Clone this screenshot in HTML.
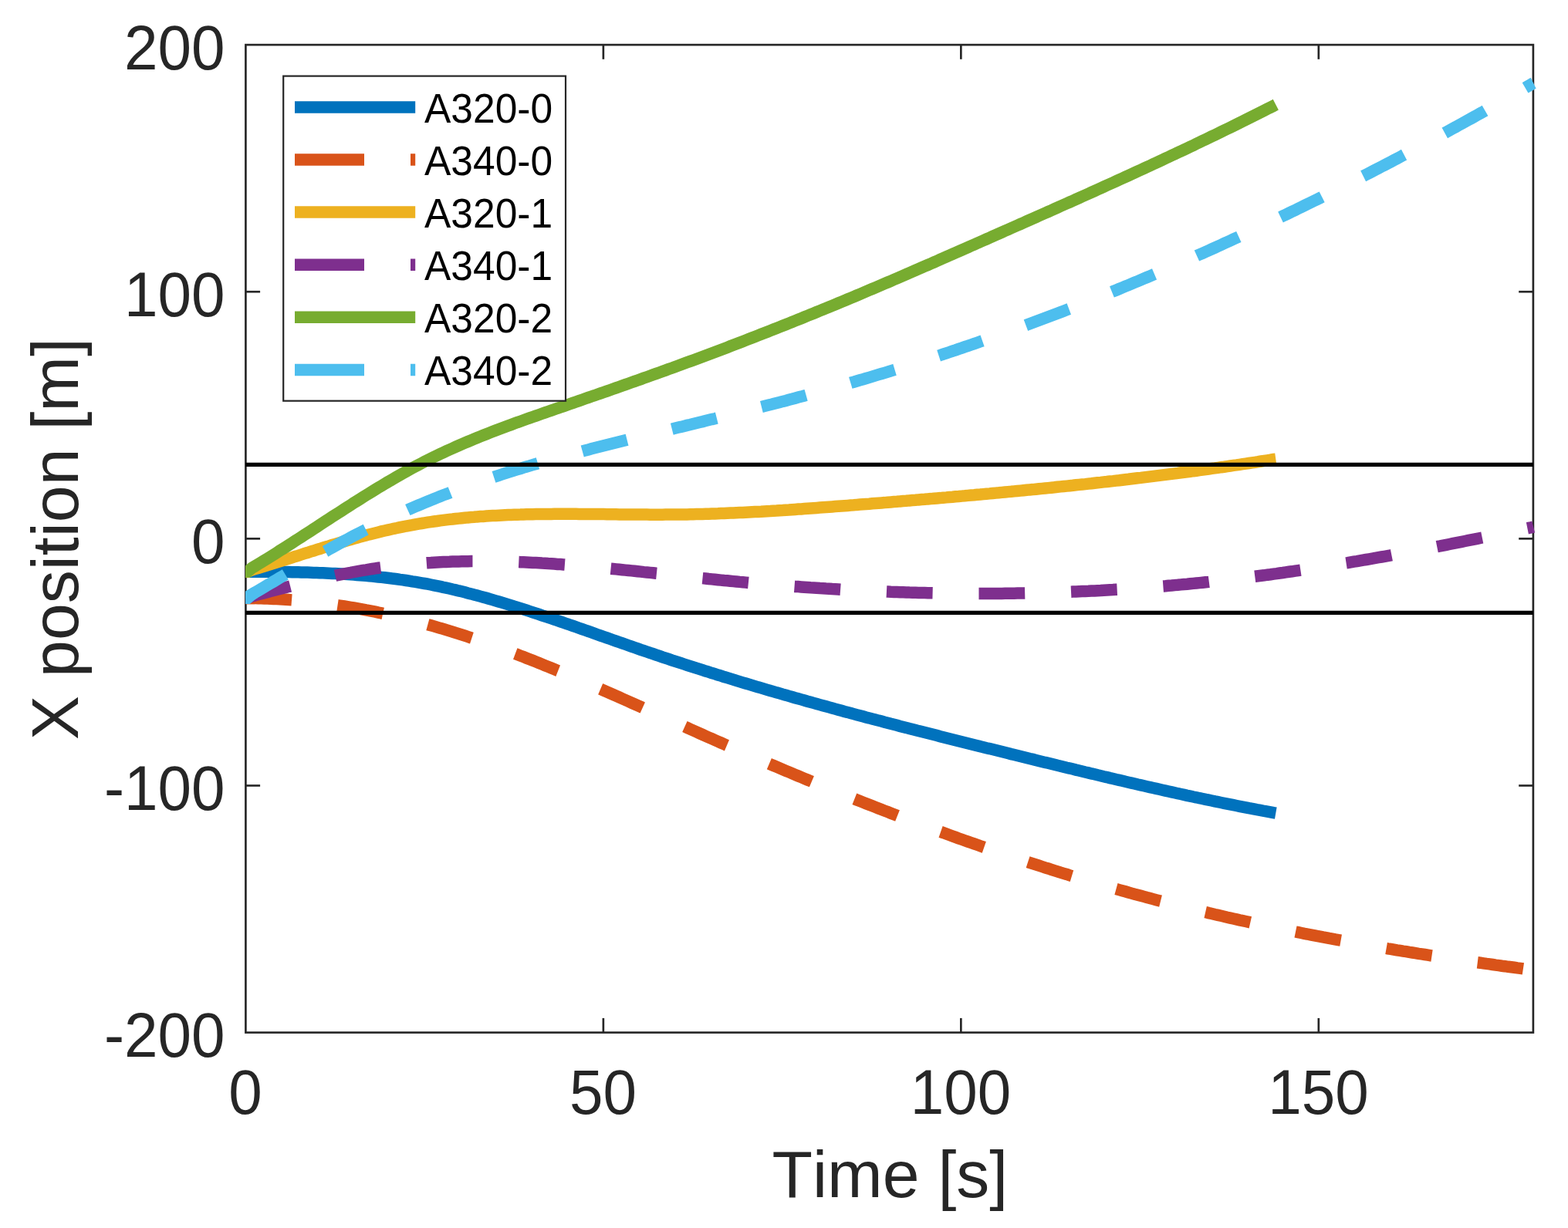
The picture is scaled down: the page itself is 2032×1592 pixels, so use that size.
<!DOCTYPE html>
<html lang="en"><head><meta charset="utf-8"><title>X position vs Time</title>
<style>
html,body{margin:0;padding:0;background:#fff;}
body{width:2032px;height:1592px;overflow:hidden;}
svg{display:block;}
text{font-family:"Liberation Sans",sans-serif;font-kerning:none;}
.tick{font-size:78.2px;fill:#262626;}
.lab{font-size:86px;fill:#262626;}
.leg{font-size:51.5px;fill:#000;}
</style></head><body>
<svg width="2032" height="1592" viewBox="0 0 2032 1592">
<rect x="0" y="0" width="2032" height="1592" fill="#fff"/>
<defs><clipPath id="ax"><rect x="318.1" y="52.1" width="1674.9" height="1292.5"/></clipPath></defs>

<g stroke="#262626" stroke-width="2.65" fill="none">
<rect x="318.4" y="58.1" width="1668.50" height="1280.50"/>
<line x1="781.87" x2="781.87" y1="1338.6" y2="1319.8999999999999"/>
<line x1="781.87" x2="781.87" y1="58.1" y2="76.8"/>
<line x1="1245.34" x2="1245.34" y1="1338.6" y2="1319.8999999999999"/>
<line x1="1245.34" x2="1245.34" y1="58.1" y2="76.8"/>
<line x1="1708.82" x2="1708.82" y1="1338.6" y2="1319.8999999999999"/>
<line x1="1708.82" x2="1708.82" y1="58.1" y2="76.8"/>
<line x1="318.4" x2="337.09999999999997" y1="1018.47" y2="1018.47"/>
<line x1="1986.9" x2="1968.2" y1="1018.47" y2="1018.47"/>
<line x1="318.4" x2="337.09999999999997" y1="698.35" y2="698.35"/>
<line x1="1986.9" x2="1968.2" y1="698.35" y2="698.35"/>
<line x1="318.4" x2="337.09999999999997" y1="378.22" y2="378.22"/>
<line x1="1986.9" x2="1968.2" y1="378.22" y2="378.22"/>
</g>
<g clip-path="url(#ax)" fill="none" stroke-linejoin="miter">
<path d="M306.4,741.3 L320.9,741.3 L326.4,741.3 L330.4,741.3 L334.4,741.3 L338.4,741.3 L342.4,741.3 L346.4,741.3 L350.4,741.3 L354.4,741.4 L358.4,741.4 L362.4,741.4 L366.4,741.5 L370.4,741.5 L374.4,741.6 L378.4,741.7 L382.4,741.7 L386.4,741.8 L390.4,741.9 L394.4,742.0 L398.4,742.1 L402.4,742.2 L406.4,742.4 L410.4,742.5 L414.4,742.7 L418.4,742.8 L422.4,743.0 L426.4,743.2 L430.4,743.4 L434.4,743.6 L438.4,743.8 L442.4,744.0 L446.4,744.3 L450.4,744.5 L454.4,744.8 L458.4,745.1 L462.4,745.4 L466.4,745.7 L470.4,746.0 L474.4,746.4 L478.4,746.8 L482.4,747.1 L486.4,747.5 L490.4,748.0 L494.4,748.4 L498.4,748.8 L502.4,749.3 L506.4,749.8 L510.4,750.3 L514.4,750.8 L518.4,751.4 L522.4,751.9 L526.4,752.5 L530.4,753.1 L534.4,753.8 L538.4,754.4 L542.4,755.1 L546.4,755.8 L550.4,756.5 L554.4,757.2 L558.4,758.0 L562.4,758.8 L566.4,759.6 L570.4,760.4 L574.4,761.3 L578.4,762.1 L582.4,763.0 L586.4,764.0 L590.4,764.9 L594.4,765.9 L598.4,766.8 L602.4,767.8 L606.4,768.9 L610.4,769.9 L614.4,771.0 L618.4,772.0 L622.4,773.1 L626.4,774.2 L630.4,775.3 L634.4,776.5 L638.4,777.6 L642.4,778.8 L646.4,780.0 L650.4,781.2 L654.4,782.4 L658.4,783.6 L662.4,784.8 L666.4,786.1 L670.4,787.3 L674.4,788.6 L678.4,789.9 L682.4,791.2 L686.4,792.5 L690.4,793.8 L694.4,795.1 L698.4,796.4 L702.4,797.8 L706.4,799.1 L710.4,800.4 L714.4,801.8 L718.4,803.2 L722.4,804.5 L726.4,805.9 L730.4,807.3 L734.4,808.7 L738.4,810.0 L742.4,811.4 L746.4,812.8 L750.4,814.2 L754.4,815.6 L758.4,817.0 L762.4,818.4 L766.4,819.8 L770.4,821.3 L774.4,822.7 L778.4,824.1 L782.4,825.5 L786.4,826.9 L790.4,828.3 L794.4,829.7 L798.4,831.1 L802.4,832.5 L806.4,833.9 L810.4,835.3 L814.4,836.7 L818.4,838.1 L822.4,839.5 L826.4,840.9 L830.4,842.3 L834.4,843.6 L838.4,845.0 L842.4,846.4 L846.4,847.7 L850.4,849.1 L854.4,850.4 L858.4,851.8 L862.4,853.1 L866.4,854.4 L870.4,855.8 L874.4,857.1 L878.4,858.4 L882.4,859.7 L886.4,861.0 L890.4,862.3 L894.4,863.6 L898.4,864.9 L902.4,866.2 L906.4,867.4 L910.4,868.7 L914.4,870.0 L918.4,871.2 L922.4,872.5 L926.4,873.7 L930.4,875.0 L934.4,876.2 L938.4,877.5 L942.4,878.7 L946.4,879.9 L950.4,881.1 L954.4,882.4 L958.4,883.6 L962.4,884.8 L966.4,886.0 L970.4,887.2 L974.4,888.4 L978.4,889.6 L982.4,890.8 L986.4,891.9 L990.4,893.1 L994.4,894.3 L998.4,895.5 L1002.4,896.6 L1006.4,897.8 L1010.4,898.9 L1014.4,900.1 L1018.4,901.2 L1022.4,902.4 L1026.4,903.5 L1030.4,904.7 L1034.4,905.8 L1038.4,906.9 L1042.4,908.0 L1046.4,909.2 L1050.4,910.3 L1054.4,911.4 L1058.4,912.5 L1062.4,913.6 L1066.4,914.7 L1070.4,915.8 L1074.4,916.9 L1078.4,918.0 L1082.4,919.1 L1086.4,920.2 L1090.4,921.3 L1094.4,922.4 L1098.4,923.4 L1102.4,924.5 L1106.4,925.6 L1110.4,926.7 L1114.4,927.7 L1118.4,928.8 L1122.4,929.9 L1126.4,930.9 L1130.4,932.0 L1134.4,933.0 L1138.4,934.1 L1142.4,935.1 L1146.4,936.2 L1150.4,937.2 L1154.4,938.3 L1158.4,939.3 L1162.4,940.3 L1166.4,941.4 L1170.4,942.4 L1174.4,943.4 L1178.4,944.5 L1182.4,945.5 L1186.4,946.5 L1190.4,947.6 L1194.4,948.6 L1198.4,949.6 L1202.4,950.6 L1206.4,951.6 L1210.4,952.6 L1214.4,953.6 L1218.4,954.7 L1222.4,955.7 L1226.4,956.7 L1230.4,957.7 L1234.4,958.7 L1238.4,959.7 L1242.4,960.7 L1246.4,961.7 L1250.4,962.7 L1254.4,963.7 L1258.4,964.7 L1262.4,965.7 L1266.4,966.7 L1270.4,967.7 L1274.4,968.7 L1278.4,969.7 L1282.4,970.6 L1286.4,971.6 L1290.4,972.6 L1294.4,973.6 L1298.4,974.6 L1302.4,975.6 L1306.4,976.6 L1310.4,977.6 L1314.4,978.5 L1318.4,979.5 L1322.4,980.5 L1326.4,981.5 L1330.4,982.5 L1334.4,983.5 L1338.4,984.4 L1342.4,985.4 L1346.4,986.4 L1350.4,987.4 L1354.4,988.4 L1358.4,989.3 L1362.4,990.3 L1366.4,991.3 L1370.4,992.3 L1374.4,993.2 L1378.4,994.2 L1382.4,995.2 L1386.4,996.1 L1390.4,997.1 L1394.4,998.1 L1398.4,999.0 L1402.4,1000.0 L1406.4,1001.0 L1410.4,1001.9 L1414.4,1002.9 L1418.4,1003.8 L1422.4,1004.8 L1426.4,1005.7 L1430.4,1006.7 L1434.4,1007.6 L1438.4,1008.6 L1442.4,1009.5 L1446.4,1010.5 L1450.4,1011.4 L1454.4,1012.3 L1458.4,1013.3 L1462.4,1014.2 L1466.4,1015.1 L1470.4,1016.0 L1474.4,1017.0 L1478.4,1017.9 L1482.4,1018.8 L1486.4,1019.7 L1490.4,1020.6 L1494.4,1021.5 L1498.4,1022.4 L1502.4,1023.3 L1506.4,1024.2 L1510.4,1025.1 L1514.4,1026.0 L1518.4,1026.9 L1522.4,1027.8 L1526.4,1028.7 L1530.4,1029.5 L1534.4,1030.4 L1538.4,1031.3 L1542.4,1032.1 L1546.4,1033.0 L1550.4,1033.8 L1554.4,1034.7 L1558.4,1035.5 L1562.4,1036.4 L1566.4,1037.2 L1570.4,1038.0 L1574.4,1038.9 L1578.4,1039.7 L1582.4,1040.5 L1586.4,1041.3 L1590.4,1042.1 L1594.4,1042.9 L1598.4,1043.7 L1602.4,1044.5 L1606.4,1045.3 L1610.4,1046.1 L1614.4,1046.9 L1618.4,1047.7 L1622.4,1048.4 L1626.4,1049.2 L1630.4,1050.0 L1634.4,1050.7 L1638.4,1051.5 L1642.4,1052.2 L1646.4,1052.9 L1650.4,1053.7 L1653.3,1054.2" stroke="#0072BD" stroke-width="15.5"/>
<path d="M306.4,775.5 L320.9,775.5 L326.4,775.6 L330.4,775.6" stroke="#D95319" stroke-width="15.5"/>
<path d="M318.4,775.5 L322.4,775.5 L326.4,775.6 L330.4,775.6 L334.4,775.7 L338.4,775.8 L342.4,775.9 L346.4,776.1 L350.4,776.2 L354.4,776.4 L358.4,776.6 L362.4,776.8 L366.4,777.1 L370.4,777.3 L374.4,777.6 L378.4,777.9 L382.4,778.2 L386.4,778.6 L390.4,778.9 L394.4,779.3 L398.4,779.7 L402.4,780.1 L406.4,780.6 L410.4,781.0 L414.4,781.5 L418.4,782.0 L422.4,782.5 L426.4,783.0 L430.4,783.6 L434.4,784.2 L438.4,784.8 L442.4,785.4 L446.4,786.0 L450.4,786.6 L454.4,787.3 L458.4,788.0 L462.4,788.7 L466.4,789.4 L470.4,790.1 L474.4,790.9 L478.4,791.6 L482.4,792.4 L486.4,793.2 L490.4,794.1 L494.4,794.9 L498.4,795.8 L502.4,796.7 L506.4,797.6 L510.4,798.5 L514.4,799.4 L518.4,800.3 L522.4,801.3 L526.4,802.3 L530.4,803.3 L534.4,804.3 L538.4,805.4 L542.4,806.4 L546.4,807.5 L550.4,808.6 L554.4,809.7 L558.4,810.8 L562.4,811.9 L566.4,813.1 L570.4,814.3 L574.4,815.4 L578.4,816.7 L582.4,817.9 L586.4,819.1 L590.4,820.4 L594.4,821.6 L598.4,822.9 L602.4,824.2 L606.4,825.5 L610.4,826.9 L614.4,828.2 L618.4,829.6 L622.4,831.0 L626.4,832.4 L630.4,833.8 L634.4,835.2 L638.4,836.6 L642.4,838.1 L646.4,839.5 L650.4,841.0 L654.4,842.5 L658.4,844.0 L662.4,845.5 L666.4,847.0 L670.4,848.5 L674.4,850.1 L678.4,851.6 L682.4,853.2 L686.4,854.7 L690.4,856.3 L694.4,857.9 L698.4,859.5 L702.4,861.1 L706.4,862.8 L710.4,864.4 L714.4,866.0 L718.4,867.7 L722.4,869.4 L726.4,871.0 L730.4,872.7 L734.4,874.4 L738.4,876.1 L742.4,877.8 L746.4,879.5 L750.4,881.2 L754.4,882.9 L758.4,884.6 L762.4,886.3 L766.4,888.1 L770.4,889.8 L774.4,891.6 L778.4,893.3 L782.4,895.1 L786.4,896.8 L790.4,898.6 L794.4,900.4 L798.4,902.1 L802.4,903.9 L806.4,905.7 L810.4,907.5 L814.4,909.3 L818.4,911.1 L822.4,912.9 L826.4,914.6 L830.4,916.4 L834.4,918.2 L838.4,920.0 L842.4,921.8 L846.4,923.6 L850.4,925.4 L854.4,927.2 L858.4,929.0 L862.4,930.8 L866.4,932.6 L870.4,934.4 L874.4,936.2 L878.4,938.0 L882.4,939.8 L886.4,941.6 L890.4,943.4 L894.4,945.2 L898.4,947.0 L902.4,948.8 L906.4,950.6 L910.4,952.4 L914.4,954.2 L918.4,956.0 L922.4,957.7 L926.4,959.5 L930.4,961.3 L934.4,963.0 L938.4,964.8 L942.4,966.5 L946.4,968.3 L950.4,970.1 L954.4,971.8 L958.4,973.5 L962.4,975.3 L966.4,977.0 L970.4,978.8 L974.4,980.5 L978.4,982.2 L982.4,983.9 L986.4,985.7 L990.4,987.4 L994.4,989.1 L998.4,990.8 L1002.4,992.5 L1006.4,994.2 L1010.4,995.9 L1014.4,997.6 L1018.4,999.3 L1022.4,1000.9 L1026.4,1002.6 L1030.4,1004.3 L1034.4,1006.0 L1038.4,1007.6 L1042.4,1009.3 L1046.4,1011.0 L1050.4,1012.6 L1054.4,1014.3 L1058.4,1015.9 L1062.4,1017.6 L1066.4,1019.2 L1070.4,1020.8 L1074.4,1022.5 L1078.4,1024.1 L1082.4,1025.7 L1086.4,1027.3 L1090.4,1029.0 L1094.4,1030.6 L1098.4,1032.2 L1102.4,1033.8 L1106.4,1035.4 L1110.4,1037.0 L1114.4,1038.5 L1118.4,1040.1 L1122.4,1041.7 L1126.4,1043.3 L1130.4,1044.8 L1134.4,1046.4 L1138.4,1048.0 L1142.4,1049.5 L1146.4,1051.1 L1150.4,1052.6 L1154.4,1054.2 L1158.4,1055.7 L1162.4,1057.2 L1166.4,1058.8 L1170.4,1060.3 L1174.4,1061.8 L1178.4,1063.3 L1182.4,1064.8 L1186.4,1066.3 L1190.4,1067.8 L1194.4,1069.3 L1198.4,1070.8 L1202.4,1072.3 L1206.4,1073.8 L1210.4,1075.2 L1214.4,1076.7 L1218.4,1078.2 L1222.4,1079.6 L1226.4,1081.1 L1230.4,1082.5 L1234.4,1084.0 L1238.4,1085.4 L1242.4,1086.9 L1246.4,1088.3 L1250.4,1089.7 L1254.4,1091.1 L1258.4,1092.5 L1262.4,1093.9 L1266.4,1095.3 L1270.4,1096.7 L1274.4,1098.1 L1278.4,1099.5 L1282.4,1100.9 L1286.4,1102.3 L1290.4,1103.6 L1294.4,1105.0 L1298.4,1106.4 L1302.4,1107.7 L1306.4,1109.1 L1310.4,1110.4 L1314.4,1111.7 L1318.4,1113.1 L1322.4,1114.4 L1326.4,1115.7 L1330.4,1117.0 L1334.4,1118.3 L1338.4,1119.6 L1342.4,1120.9 L1346.4,1122.2 L1350.4,1123.5 L1354.4,1124.8 L1358.4,1126.0 L1362.4,1127.3 L1366.4,1128.6 L1370.4,1129.8 L1374.4,1131.1 L1378.4,1132.3 L1382.4,1133.5 L1386.4,1134.8 L1390.4,1136.0 L1394.4,1137.2 L1398.4,1138.4 L1402.4,1139.6 L1406.4,1140.8 L1410.4,1142.0 L1414.4,1143.2 L1418.4,1144.4 L1422.4,1145.6 L1426.4,1146.7 L1430.4,1147.9 L1434.4,1149.0 L1438.4,1150.2 L1442.4,1151.3 L1446.4,1152.5 L1450.4,1153.6 L1454.4,1154.7 L1458.4,1155.8 L1462.4,1157.0 L1466.4,1158.1 L1470.4,1159.2 L1474.4,1160.2 L1478.4,1161.3 L1482.4,1162.4 L1486.4,1163.5 L1490.4,1164.5 L1494.4,1165.6 L1498.4,1166.7 L1502.4,1167.7 L1506.4,1168.7 L1510.4,1169.8 L1514.4,1170.8 L1518.4,1171.8 L1522.4,1172.8 L1526.4,1173.8 L1530.4,1174.8 L1534.4,1175.8 L1538.4,1176.8 L1542.4,1177.8 L1546.4,1178.8 L1550.4,1179.8 L1554.4,1180.7 L1558.4,1181.7 L1562.4,1182.6 L1566.4,1183.6 L1570.4,1184.5 L1574.4,1185.5 L1578.4,1186.4 L1582.4,1187.3 L1586.4,1188.2 L1590.4,1189.2 L1594.4,1190.1 L1598.4,1191.0 L1602.4,1191.9 L1606.4,1192.8 L1610.4,1193.6 L1614.4,1194.5 L1618.4,1195.4 L1622.4,1196.3 L1626.4,1197.1 L1630.4,1198.0 L1634.4,1198.8 L1638.4,1199.7 L1642.4,1200.5 L1646.4,1201.4 L1650.4,1202.2 L1654.4,1203.0 L1658.4,1203.9 L1662.4,1204.7 L1666.4,1205.5 L1670.4,1206.3 L1674.4,1207.1 L1678.4,1207.9 L1682.4,1208.7 L1686.4,1209.5 L1690.4,1210.3 L1694.4,1211.0 L1698.4,1211.8 L1702.4,1212.6 L1706.4,1213.4 L1710.4,1214.1 L1714.4,1214.9 L1718.4,1215.6 L1722.4,1216.4 L1726.4,1217.1 L1730.4,1217.9 L1734.4,1218.6 L1738.4,1219.3 L1742.4,1220.0 L1746.4,1220.8 L1750.4,1221.5 L1754.4,1222.2 L1758.4,1222.9 L1762.4,1223.6 L1766.4,1224.3 L1770.4,1225.0 L1774.4,1225.7 L1778.4,1226.4 L1782.4,1227.1 L1786.4,1227.8 L1790.4,1228.4 L1794.4,1229.1 L1798.4,1229.8 L1802.4,1230.4 L1806.4,1231.1 L1810.4,1231.8 L1814.4,1232.4 L1818.4,1233.1 L1822.4,1233.7 L1826.4,1234.4 L1830.4,1235.0 L1834.4,1235.6 L1838.4,1236.3 L1842.4,1236.9 L1846.4,1237.5 L1850.4,1238.1 L1854.4,1238.8 L1858.4,1239.4 L1862.4,1240.0 L1866.4,1240.6 L1870.4,1241.2 L1874.4,1241.8 L1878.4,1242.4 L1882.4,1243.0 L1886.4,1243.6 L1890.4,1244.2 L1894.4,1244.8 L1898.4,1245.4 L1902.4,1245.9 L1906.4,1246.5 L1910.4,1247.1 L1914.4,1247.7 L1918.4,1248.2 L1922.4,1248.8 L1926.4,1249.4 L1930.4,1249.9 L1934.4,1250.5 L1938.4,1251.1 L1942.4,1251.6 L1946.4,1252.2 L1950.4,1252.7 L1954.4,1253.3 L1958.4,1253.8 L1962.4,1254.3 L1966.4,1254.9 L1970.4,1255.4 L1974.4,1256.0 L1978.4,1256.5 L1982.4,1257.0 L1986.4,1257.6 L1987.2,1257.7" stroke="#D95319" stroke-width="15.5" stroke-dasharray="59.7 59.88"/>
<path d="M306.4,741.2 L320.9,741.2 L326.4,738.9 L330.4,737.7 L334.4,736.5 L338.4,735.3 L342.4,734.1 L346.4,732.8 L350.4,731.6 L354.4,730.4 L358.4,729.1 L362.4,727.9 L366.4,726.6 L370.4,725.3 L374.4,724.1 L378.4,722.8 L382.4,721.5 L386.4,720.3 L390.4,719.0 L394.4,717.7 L398.4,716.5 L402.4,715.2 L406.4,714.0 L410.4,712.7 L414.4,711.5 L418.4,710.2 L422.4,709.0 L426.4,707.8 L430.4,706.5 L434.4,705.3 L438.4,704.1 L442.4,703.0 L446.4,701.8 L450.4,700.6 L454.4,699.5 L458.4,698.3 L462.4,697.2 L466.4,696.1 L470.4,695.0 L474.4,694.0 L478.4,692.9 L482.4,691.9 L486.4,690.9 L490.4,689.9 L494.4,688.9 L498.4,688.0 L502.4,687.1 L506.4,686.2 L510.4,685.3 L514.4,684.5 L518.4,683.6 L522.4,682.8 L526.4,682.0 L530.4,681.3 L534.4,680.6 L538.4,679.8 L542.4,679.1 L546.4,678.5 L550.4,677.8 L554.4,677.2 L558.4,676.6 L562.4,676.0 L566.4,675.5 L570.4,674.9 L574.4,674.4 L578.4,673.9 L582.4,673.4 L586.4,673.0 L590.4,672.5 L594.4,672.1 L598.4,671.7 L602.4,671.3 L606.4,670.9 L610.4,670.6 L614.4,670.3 L618.4,669.9 L622.4,669.6 L626.4,669.4 L630.4,669.1 L634.4,668.8 L638.4,668.6 L642.4,668.4 L646.4,668.2 L650.4,668.0 L654.4,667.8 L658.4,667.6 L662.4,667.5 L666.4,667.3 L670.4,667.2 L674.4,667.1 L678.4,666.9 L682.4,666.8 L686.4,666.7 L690.4,666.7 L694.4,666.6 L698.4,666.5 L702.4,666.5 L706.4,666.4 L710.4,666.4 L714.4,666.4 L718.4,666.3 L722.4,666.3 L726.4,666.3 L730.4,666.3 L734.4,666.3 L738.4,666.3 L742.4,666.3 L746.4,666.3 L750.4,666.4 L754.4,666.4 L758.4,666.4 L762.4,666.5 L766.4,666.5 L770.4,666.5 L774.4,666.6 L778.4,666.6 L782.4,666.6 L786.4,666.7 L790.4,666.7 L794.4,666.8 L798.4,666.8 L802.4,666.9 L806.4,666.9 L810.4,666.9 L814.4,667.0 L818.4,667.0 L822.4,667.0 L826.4,667.1 L830.4,667.1 L834.4,667.1 L838.4,667.1 L842.4,667.2 L846.4,667.2 L850.4,667.2 L854.4,667.2 L858.4,667.2 L862.4,667.1 L866.4,667.1 L870.4,667.1 L874.4,667.1 L878.4,667.0 L882.4,667.0 L886.4,666.9 L890.4,666.9 L894.4,666.8 L898.4,666.7 L902.4,666.6 L906.4,666.5 L910.4,666.4 L914.4,666.3 L918.4,666.2 L922.4,666.0 L926.4,665.9 L930.4,665.8 L934.4,665.6 L938.4,665.5 L942.4,665.3 L946.4,665.1 L950.4,665.0 L954.4,664.8 L958.4,664.6 L962.4,664.4 L966.4,664.2 L970.4,664.0 L974.4,663.8 L978.4,663.6 L982.4,663.4 L986.4,663.2 L990.4,662.9 L994.4,662.7 L998.4,662.5 L1002.4,662.2 L1006.4,662.0 L1010.4,661.7 L1014.4,661.5 L1018.4,661.2 L1022.4,661.0 L1026.4,660.7 L1030.4,660.4 L1034.4,660.1 L1038.4,659.9 L1042.4,659.6 L1046.4,659.3 L1050.4,659.0 L1054.4,658.7 L1058.4,658.4 L1062.4,658.1 L1066.4,657.8 L1070.4,657.5 L1074.4,657.2 L1078.4,656.9 L1082.4,656.6 L1086.4,656.3 L1090.4,656.0 L1094.4,655.7 L1098.4,655.4 L1102.4,655.1 L1106.4,654.8 L1110.4,654.4 L1114.4,654.1 L1118.4,653.8 L1122.4,653.5 L1126.4,653.2 L1130.4,652.8 L1134.4,652.5 L1138.4,652.2 L1142.4,651.9 L1146.4,651.6 L1150.4,651.2 L1154.4,650.9 L1158.4,650.6 L1162.4,650.3 L1166.4,649.9 L1170.4,649.6 L1174.4,649.3 L1178.4,648.9 L1182.4,648.6 L1186.4,648.3 L1190.4,647.9 L1194.4,647.6 L1198.4,647.3 L1202.4,646.9 L1206.4,646.6 L1210.4,646.2 L1214.4,645.9 L1218.4,645.6 L1222.4,645.2 L1226.4,644.9 L1230.4,644.5 L1234.4,644.2 L1238.4,643.8 L1242.4,643.5 L1246.4,643.1 L1250.4,642.8 L1254.4,642.4 L1258.4,642.0 L1262.4,641.7 L1266.4,641.3 L1270.4,641.0 L1274.4,640.6 L1278.4,640.2 L1282.4,639.9 L1286.4,639.5 L1290.4,639.1 L1294.4,638.8 L1298.4,638.4 L1302.4,638.0 L1306.4,637.6 L1310.4,637.3 L1314.4,636.9 L1318.4,636.5 L1322.4,636.1 L1326.4,635.7 L1330.4,635.3 L1334.4,634.9 L1338.4,634.6 L1342.4,634.2 L1346.4,633.8 L1350.4,633.4 L1354.4,633.0 L1358.4,632.6 L1362.4,632.2 L1366.4,631.8 L1370.4,631.3 L1374.4,630.9 L1378.4,630.5 L1382.4,630.1 L1386.4,629.7 L1390.4,629.3 L1394.4,628.8 L1398.4,628.4 L1402.4,628.0 L1406.4,627.6 L1410.4,627.1 L1414.4,626.7 L1418.4,626.2 L1422.4,625.8 L1426.4,625.4 L1430.4,624.9 L1434.4,624.5 L1438.4,624.0 L1442.4,623.6 L1446.4,623.1 L1450.4,622.7 L1454.4,622.2 L1458.4,621.7 L1462.4,621.3 L1466.4,620.8 L1470.4,620.3 L1474.4,619.8 L1478.4,619.4 L1482.4,618.9 L1486.4,618.4 L1490.4,617.9 L1494.4,617.4 L1498.4,616.9 L1502.4,616.4 L1506.4,615.9 L1510.4,615.4 L1514.4,614.9 L1518.4,614.4 L1522.4,613.9 L1526.4,613.4 L1530.4,612.8 L1534.4,612.3 L1538.4,611.8 L1542.4,611.3 L1546.4,610.7 L1550.4,610.2 L1554.4,609.6 L1558.4,609.1 L1562.4,608.5 L1566.4,608.0 L1570.4,607.4 L1574.4,606.9 L1578.4,606.3 L1582.4,605.7 L1586.4,605.2 L1590.4,604.6 L1594.4,604.0 L1598.4,603.4 L1602.4,602.9 L1606.4,602.3 L1610.4,601.7 L1614.4,601.1 L1618.4,600.5 L1622.4,599.9 L1626.4,599.3 L1630.4,598.7 L1634.4,598.0 L1638.4,597.4 L1642.4,596.8 L1646.4,596.2 L1650.4,595.5 L1653.3,595.1" stroke="#EDB120" stroke-width="15.5"/>
<path d="M306.4,775.0 L320.9,775.0 L326.4,772.9 L330.4,771.8" stroke="#7E2F8E" stroke-width="15.5"/>
<path d="M318.4,775.0 L322.4,773.9 L326.4,772.9 L330.4,771.8 L334.4,770.8 L338.4,769.8 L342.4,768.7 L346.4,767.7 L350.4,766.6 L354.4,765.6 L358.4,764.5 L362.4,763.5 L366.4,762.5 L370.4,761.5 L374.4,760.4 L378.4,759.4 L382.4,758.4 L386.4,757.4 L390.4,756.4 L394.4,755.4 L398.4,754.5 L402.4,753.5 L406.4,752.6 L410.4,751.6 L414.4,750.7 L418.4,749.8 L422.4,748.9 L426.4,748.0 L430.4,747.1 L434.4,746.3 L438.4,745.4 L442.4,744.6 L446.4,743.8 L450.4,743.0 L454.4,742.3 L458.4,741.5 L462.4,740.8 L466.4,740.1 L470.4,739.4 L474.4,738.8 L478.4,738.1 L482.4,737.5 L486.4,736.9 L490.4,736.3 L494.4,735.8 L498.4,735.2 L502.4,734.7 L506.4,734.2 L510.4,733.7 L514.4,733.3 L518.4,732.8 L522.4,732.4 L526.4,732.0 L530.4,731.6 L534.4,731.3 L538.4,730.9 L542.4,730.6 L546.4,730.3 L550.4,730.0 L554.4,729.7 L558.4,729.5 L562.4,729.2 L566.4,729.0 L570.4,728.8 L574.4,728.6 L578.4,728.4 L582.4,728.3 L586.4,728.1 L590.4,728.0 L594.4,727.9 L598.4,727.8 L602.4,727.7 L606.4,727.7 L610.4,727.6 L614.4,727.6 L618.4,727.6 L622.4,727.6 L626.4,727.6 L630.4,727.6 L634.4,727.6 L638.4,727.7 L642.4,727.7 L646.4,727.8 L650.4,727.9 L654.4,728.0 L658.4,728.1 L662.4,728.2 L666.4,728.4 L670.4,728.5 L674.4,728.7 L678.4,728.8 L682.4,729.0 L686.4,729.2 L690.4,729.4 L694.4,729.6 L698.4,729.8 L702.4,730.1 L706.4,730.3 L710.4,730.6 L714.4,730.8 L718.4,731.1 L722.4,731.4 L726.4,731.6 L730.4,731.9 L734.4,732.2 L738.4,732.5 L742.4,732.9 L746.4,733.2 L750.4,733.5 L754.4,733.8 L758.4,734.2 L762.4,734.5 L766.4,734.9 L770.4,735.2 L774.4,735.6 L778.4,736.0 L782.4,736.3 L786.4,736.7 L790.4,737.1 L794.4,737.5 L798.4,737.9 L802.4,738.3 L806.4,738.7 L810.4,739.1 L814.4,739.5 L818.4,739.9 L822.4,740.3 L826.4,740.7 L830.4,741.1 L834.4,741.6 L838.4,742.0 L842.4,742.4 L846.4,742.8 L850.4,743.3 L854.4,743.7 L858.4,744.1 L862.4,744.5 L866.4,745.0 L870.4,745.4 L874.4,745.8 L878.4,746.3 L882.4,746.7 L886.4,747.1 L890.4,747.5 L894.4,748.0 L898.4,748.4 L902.4,748.8 L906.4,749.2 L910.4,749.6 L914.4,750.0 L918.4,750.5 L922.4,750.9 L926.4,751.3 L930.4,751.7 L934.4,752.1 L938.4,752.5 L942.4,752.8 L946.4,753.2 L950.4,753.6 L954.4,754.0 L958.4,754.4 L962.4,754.7 L966.4,755.1 L970.4,755.5 L974.4,755.8 L978.4,756.2 L982.4,756.5 L986.4,756.9 L990.4,757.2 L994.4,757.5 L998.4,757.9 L1002.4,758.2 L1006.4,758.5 L1010.4,758.8 L1014.4,759.1 L1018.4,759.5 L1022.4,759.8 L1026.4,760.1 L1030.4,760.4 L1034.4,760.6 L1038.4,760.9 L1042.4,761.2 L1046.4,761.5 L1050.4,761.8 L1054.4,762.0 L1058.4,762.3 L1062.4,762.6 L1066.4,762.8 L1070.4,763.1 L1074.4,763.3 L1078.4,763.6 L1082.4,763.8 L1086.4,764.0 L1090.4,764.3 L1094.4,764.5 L1098.4,764.7 L1102.4,764.9 L1106.4,765.1 L1110.4,765.3 L1114.4,765.5 L1118.4,765.7 L1122.4,765.9 L1126.4,766.1 L1130.4,766.3 L1134.4,766.4 L1138.4,766.6 L1142.4,766.8 L1146.4,766.9 L1150.4,767.1 L1154.4,767.3 L1158.4,767.4 L1162.4,767.5 L1166.4,767.7 L1170.4,767.8 L1174.4,767.9 L1178.4,768.1 L1182.4,768.2 L1186.4,768.3 L1190.4,768.4 L1194.4,768.5 L1198.4,768.6 L1202.4,768.7 L1206.4,768.8 L1210.4,768.9 L1214.4,768.9 L1218.4,769.0 L1222.4,769.1 L1226.4,769.1 L1230.4,769.2 L1234.4,769.2 L1238.4,769.3 L1242.4,769.3 L1246.4,769.4 L1250.4,769.4 L1254.4,769.4 L1258.4,769.5 L1262.4,769.5 L1266.4,769.5 L1270.4,769.5 L1274.4,769.5 L1278.4,769.5 L1282.4,769.5 L1286.4,769.5 L1290.4,769.4 L1294.4,769.4 L1298.4,769.4 L1302.4,769.3 L1306.4,769.3 L1310.4,769.2 L1314.4,769.2 L1318.4,769.1 L1322.4,769.1 L1326.4,769.0 L1330.4,768.9 L1334.4,768.8 L1338.4,768.8 L1342.4,768.7 L1346.4,768.6 L1350.4,768.5 L1354.4,768.4 L1358.4,768.2 L1362.4,768.1 L1366.4,768.0 L1370.4,767.9 L1374.4,767.7 L1378.4,767.6 L1382.4,767.4 L1386.4,767.3 L1390.4,767.1 L1394.4,767.0 L1398.4,766.8 L1402.4,766.6 L1406.4,766.4 L1410.4,766.3 L1414.4,766.1 L1418.4,765.9 L1422.4,765.7 L1426.4,765.5 L1430.4,765.2 L1434.4,765.0 L1438.4,764.8 L1442.4,764.6 L1446.4,764.3 L1450.4,764.1 L1454.4,763.8 L1458.4,763.6 L1462.4,763.3 L1466.4,763.0 L1470.4,762.8 L1474.4,762.5 L1478.4,762.2 L1482.4,761.9 L1486.4,761.6 L1490.4,761.3 L1494.4,761.0 L1498.4,760.7 L1502.4,760.3 L1506.4,760.0 L1510.4,759.7 L1514.4,759.3 L1518.4,759.0 L1522.4,758.6 L1526.4,758.3 L1530.4,757.9 L1534.4,757.5 L1538.4,757.2 L1542.4,756.8 L1546.4,756.4 L1550.4,756.0 L1554.4,755.6 L1558.4,755.2 L1562.4,754.8 L1566.4,754.4 L1570.4,753.9 L1574.4,753.5 L1578.4,753.1 L1582.4,752.6 L1586.4,752.2 L1590.4,751.7 L1594.4,751.2 L1598.4,750.8 L1602.4,750.3 L1606.4,749.8 L1610.4,749.3 L1614.4,748.8 L1618.4,748.3 L1622.4,747.8 L1626.4,747.3 L1630.4,746.8 L1634.4,746.3 L1638.4,745.8 L1642.4,745.2 L1646.4,744.7 L1650.4,744.1 L1654.4,743.6 L1658.4,743.0 L1662.4,742.5 L1666.4,741.9 L1670.4,741.3 L1674.4,740.8 L1678.4,740.2 L1682.4,739.6 L1686.4,739.0 L1690.4,738.4 L1694.4,737.8 L1698.4,737.2 L1702.4,736.6 L1706.4,736.0 L1710.4,735.4 L1714.4,734.7 L1718.4,734.1 L1722.4,733.5 L1726.4,732.8 L1730.4,732.2 L1734.4,731.5 L1738.4,730.9 L1742.4,730.2 L1746.4,729.6 L1750.4,728.9 L1754.4,728.2 L1758.4,727.6 L1762.4,726.9 L1766.4,726.2 L1770.4,725.5 L1774.4,724.8 L1778.4,724.1 L1782.4,723.4 L1786.4,722.7 L1790.4,722.0 L1794.4,721.3 L1798.4,720.6 L1802.4,719.9 L1806.4,719.1 L1810.4,718.4 L1814.4,717.7 L1818.4,716.9 L1822.4,716.2 L1826.4,715.5 L1830.4,714.7 L1834.4,714.0 L1838.4,713.2 L1842.4,712.5 L1846.4,711.7 L1850.4,710.9 L1854.4,710.2 L1858.4,709.4 L1862.4,708.6 L1866.4,707.9 L1870.4,707.1 L1874.4,706.3 L1878.4,705.5 L1882.4,704.7 L1886.4,703.9 L1890.4,703.1 L1894.4,702.3 L1898.4,701.5 L1902.4,700.7 L1906.4,699.9 L1910.4,699.1 L1914.4,698.3 L1918.4,697.5 L1922.4,696.7 L1926.4,695.9 L1930.4,695.0 L1934.4,694.2 L1938.4,693.4 L1942.4,692.6 L1946.4,691.7 L1950.4,690.9 L1954.4,690.1 L1958.4,689.2 L1962.4,688.4 L1966.4,687.6 L1970.4,686.7 L1974.4,685.9 L1978.4,685.0 L1982.4,684.2 L1986.4,683.3 L1987.2,683.1" stroke="#7E2F8E" stroke-width="15.5" stroke-dasharray="59.7 59.88"/>
<path d="M306.4,741.1 L320.9,741.1 L326.4,736.4 L330.4,734.0 L334.4,731.5 L338.4,729.1 L342.4,726.7 L346.4,724.2 L350.4,721.7 L354.4,719.2 L358.4,716.7 L362.4,714.1 L366.4,711.6 L370.4,709.1 L374.4,706.5 L378.4,703.9 L382.4,701.3 L386.4,698.8 L390.4,696.2 L394.4,693.6 L398.4,691.0 L402.4,688.4 L406.4,685.8 L410.4,683.2 L414.4,680.6 L418.4,677.9 L422.4,675.3 L426.4,672.7 L430.4,670.1 L434.4,667.5 L438.4,665.0 L442.4,662.4 L446.4,659.8 L450.4,657.2 L454.4,654.7 L458.4,652.1 L462.4,649.6 L466.4,647.1 L470.4,644.5 L474.4,642.0 L478.4,639.6 L482.4,637.1 L486.4,634.6 L490.4,632.2 L494.4,629.8 L498.4,627.4 L502.4,625.0 L506.4,622.7 L510.4,620.3 L514.4,618.0 L518.4,615.7 L522.4,613.5 L526.4,611.2 L530.4,609.0 L534.4,606.8 L538.4,604.7 L542.4,602.6 L546.4,600.5 L550.4,598.4 L554.4,596.4 L558.4,594.4 L562.4,592.4 L566.4,590.5 L570.4,588.6 L574.4,586.7 L578.4,584.8 L582.4,583.0 L586.4,581.2 L590.4,579.4 L594.4,577.6 L598.4,575.9 L602.4,574.2 L606.4,572.5 L610.4,570.8 L614.4,569.1 L618.4,567.5 L622.4,565.9 L626.4,564.3 L630.4,562.7 L634.4,561.1 L638.4,559.6 L642.4,558.0 L646.4,556.5 L650.4,555.0 L654.4,553.5 L658.4,552.0 L662.4,550.6 L666.4,549.1 L670.4,547.6 L674.4,546.2 L678.4,544.8 L682.4,543.3 L686.4,541.9 L690.4,540.5 L694.4,539.1 L698.4,537.7 L702.4,536.3 L706.4,534.9 L710.4,533.5 L714.4,532.1 L718.4,530.7 L722.4,529.3 L726.4,528.0 L730.4,526.6 L734.4,525.2 L738.4,523.8 L742.4,522.4 L746.4,521.0 L750.4,519.6 L754.4,518.2 L758.4,516.8 L762.4,515.4 L766.4,514.0 L770.4,512.7 L774.4,511.3 L778.4,509.9 L782.4,508.5 L786.4,507.1 L790.4,505.7 L794.4,504.3 L798.4,502.9 L802.4,501.5 L806.4,500.0 L810.4,498.6 L814.4,497.2 L818.4,495.8 L822.4,494.4 L826.4,493.0 L830.4,491.6 L834.4,490.1 L838.4,488.7 L842.4,487.3 L846.4,485.8 L850.4,484.4 L854.4,483.0 L858.4,481.5 L862.4,480.1 L866.4,478.6 L870.4,477.2 L874.4,475.7 L878.4,474.3 L882.4,472.8 L886.4,471.3 L890.4,469.8 L894.4,468.4 L898.4,466.9 L902.4,465.4 L906.4,463.9 L910.4,462.4 L914.4,460.9 L918.4,459.4 L922.4,457.9 L926.4,456.4 L930.4,454.9 L934.4,453.4 L938.4,451.9 L942.4,450.4 L946.4,448.8 L950.4,447.3 L954.4,445.8 L958.4,444.2 L962.4,442.7 L966.4,441.1 L970.4,439.6 L974.4,438.0 L978.4,436.5 L982.4,434.9 L986.4,433.3 L990.4,431.8 L994.4,430.2 L998.4,428.6 L1002.4,427.0 L1006.4,425.5 L1010.4,423.9 L1014.4,422.3 L1018.4,420.7 L1022.4,419.1 L1026.4,417.5 L1030.4,415.9 L1034.4,414.3 L1038.4,412.7 L1042.4,411.0 L1046.4,409.4 L1050.4,407.8 L1054.4,406.2 L1058.4,404.5 L1062.4,402.9 L1066.4,401.3 L1070.4,399.6 L1074.4,398.0 L1078.4,396.3 L1082.4,394.7 L1086.4,393.0 L1090.4,391.3 L1094.4,389.7 L1098.4,388.0 L1102.4,386.3 L1106.4,384.7 L1110.4,383.0 L1114.4,381.3 L1118.4,379.6 L1122.4,377.9 L1126.4,376.2 L1130.4,374.5 L1134.4,372.8 L1138.4,371.1 L1142.4,369.4 L1146.4,367.7 L1150.4,366.0 L1154.4,364.3 L1158.4,362.5 L1162.4,360.8 L1166.4,359.1 L1170.4,357.4 L1174.4,355.6 L1178.4,353.9 L1182.4,352.2 L1186.4,350.4 L1190.4,348.7 L1194.4,346.9 L1198.4,345.2 L1202.4,343.5 L1206.4,341.7 L1210.4,340.0 L1214.4,338.2 L1218.4,336.4 L1222.4,334.7 L1226.4,332.9 L1230.4,331.2 L1234.4,329.4 L1238.4,327.7 L1242.4,325.9 L1246.4,324.1 L1250.4,322.4 L1254.4,320.6 L1258.4,318.8 L1262.4,317.1 L1266.4,315.3 L1270.4,313.5 L1274.4,311.7 L1278.4,310.0 L1282.4,308.2 L1286.4,306.4 L1290.4,304.7 L1294.4,302.9 L1298.4,301.1 L1302.4,299.3 L1306.4,297.6 L1310.4,295.8 L1314.4,294.0 L1318.4,292.2 L1322.4,290.5 L1326.4,288.7 L1330.4,286.9 L1334.4,285.1 L1338.4,283.4 L1342.4,281.6 L1346.4,279.8 L1350.4,278.0 L1354.4,276.2 L1358.4,274.5 L1362.4,272.7 L1366.4,270.9 L1370.4,269.1 L1374.4,267.3 L1378.4,265.5 L1382.4,263.7 L1386.4,262.0 L1390.4,260.2 L1394.4,258.4 L1398.4,256.6 L1402.4,254.8 L1406.4,253.0 L1410.4,251.2 L1414.4,249.4 L1418.4,247.6 L1422.4,245.8 L1426.4,243.9 L1430.4,242.1 L1434.4,240.3 L1438.4,238.5 L1442.4,236.7 L1446.4,234.9 L1450.4,233.0 L1454.4,231.2 L1458.4,229.4 L1462.4,227.6 L1466.4,225.7 L1470.4,223.9 L1474.4,222.0 L1478.4,220.2 L1482.4,218.4 L1486.4,216.5 L1490.4,214.7 L1494.4,212.8 L1498.4,210.9 L1502.4,209.1 L1506.4,207.2 L1510.4,205.3 L1514.4,203.5 L1518.4,201.6 L1522.4,199.7 L1526.4,197.8 L1530.4,195.9 L1534.4,194.1 L1538.4,192.2 L1542.4,190.3 L1546.4,188.4 L1550.4,186.4 L1554.4,184.5 L1558.4,182.6 L1562.4,180.7 L1566.4,178.8 L1570.4,176.8 L1574.4,174.9 L1578.4,173.0 L1582.4,171.0 L1586.4,169.1 L1590.4,167.1 L1594.4,165.2 L1598.4,163.2 L1602.4,161.2 L1606.4,159.2 L1610.4,157.3 L1614.4,155.3 L1618.4,153.3 L1622.4,151.3 L1626.4,149.3 L1630.4,147.3 L1634.4,145.3 L1638.4,143.3 L1642.4,141.2 L1646.4,139.2 L1650.4,137.2 L1653.3,135.7" stroke="#77AC30" stroke-width="15.5"/>
<path d="M306.4,775.3 L320.9,775.3 L326.4,770.6 L330.4,768.2" stroke="#4DBEEE" stroke-width="15.5"/>
<path d="M318.4,775.3 L322.4,772.9 L326.4,770.6 L330.4,768.2 L334.4,765.8 L338.4,763.5 L342.4,761.1 L346.4,758.7 L350.4,756.4 L354.4,754.0 L358.4,751.6 L362.4,749.2 L366.4,746.9 L370.4,744.5 L374.4,742.1 L378.4,739.8 L382.4,737.4 L386.4,735.1 L390.4,732.7 L394.4,730.4 L398.4,728.1 L402.4,725.8 L406.4,723.5 L410.4,721.2 L414.4,718.9 L418.4,716.6 L422.4,714.4 L426.4,712.1 L430.4,709.9 L434.4,707.7 L438.4,705.5 L442.4,703.3 L446.4,701.1 L450.4,699.0 L454.4,696.8 L458.4,694.7 L462.4,692.6 L466.4,690.6 L470.4,688.5 L474.4,686.5 L478.4,684.5 L482.4,682.5 L486.4,680.5 L490.4,678.6 L494.4,676.6 L498.4,674.7 L502.4,672.8 L506.4,671.0 L510.4,669.1 L514.4,667.3 L518.4,665.5 L522.4,663.7 L526.4,661.9 L530.4,660.1 L534.4,658.4 L538.4,656.7 L542.4,655.0 L546.4,653.3 L550.4,651.6 L554.4,650.0 L558.4,648.3 L562.4,646.7 L566.4,645.1 L570.4,643.5 L574.4,641.9 L578.4,640.4 L582.4,638.9 L586.4,637.3 L590.4,635.8 L594.4,634.3 L598.4,632.9 L602.4,631.4 L606.4,630.0 L610.4,628.5 L614.4,627.1 L618.4,625.7 L622.4,624.3 L626.4,622.9 L630.4,621.6 L634.4,620.2 L638.4,618.9 L642.4,617.6 L646.4,616.3 L650.4,615.0 L654.4,613.7 L658.4,612.4 L662.4,611.2 L666.4,609.9 L670.4,608.7 L674.4,607.5 L678.4,606.2 L682.4,605.0 L686.4,603.9 L690.4,602.7 L694.4,601.5 L698.4,600.3 L702.4,599.2 L706.4,598.0 L710.4,596.9 L714.4,595.8 L718.4,594.7 L722.4,593.6 L726.4,592.5 L730.4,591.4 L734.4,590.3 L738.4,589.2 L742.4,588.1 L746.4,587.1 L750.4,586.0 L754.4,585.0 L758.4,583.9 L762.4,582.9 L766.4,581.8 L770.4,580.8 L774.4,579.8 L778.4,578.8 L782.4,577.8 L786.4,576.8 L790.4,575.8 L794.4,574.8 L798.4,573.8 L802.4,572.8 L806.4,571.8 L810.4,570.8 L814.4,569.8 L818.4,568.8 L822.4,567.9 L826.4,566.9 L830.4,565.9 L834.4,565.0 L838.4,564.0 L842.4,563.0 L846.4,562.1 L850.4,561.1 L854.4,560.1 L858.4,559.2 L862.4,558.2 L866.4,557.2 L870.4,556.3 L874.4,555.3 L878.4,554.3 L882.4,553.4 L886.4,552.4 L890.4,551.4 L894.4,550.5 L898.4,549.5 L902.4,548.5 L906.4,547.5 L910.4,546.6 L914.4,545.6 L918.4,544.6 L922.4,543.6 L926.4,542.7 L930.4,541.7 L934.4,540.7 L938.4,539.7 L942.4,538.7 L946.4,537.7 L950.4,536.7 L954.4,535.7 L958.4,534.7 L962.4,533.7 L966.4,532.7 L970.4,531.7 L974.4,530.7 L978.4,529.7 L982.4,528.7 L986.4,527.6 L990.4,526.6 L994.4,525.6 L998.4,524.6 L1002.4,523.5 L1006.4,522.5 L1010.4,521.5 L1014.4,520.4 L1018.4,519.4 L1022.4,518.3 L1026.4,517.3 L1030.4,516.2 L1034.4,515.1 L1038.4,514.1 L1042.4,513.0 L1046.4,511.9 L1050.4,510.8 L1054.4,509.7 L1058.4,508.7 L1062.4,507.6 L1066.4,506.5 L1070.4,505.4 L1074.4,504.2 L1078.4,503.1 L1082.4,502.0 L1086.4,500.9 L1090.4,499.7 L1094.4,498.6 L1098.4,497.5 L1102.4,496.3 L1106.4,495.2 L1110.4,494.0 L1114.4,492.8 L1118.4,491.7 L1122.4,490.5 L1126.4,489.3 L1130.4,488.1 L1134.4,486.9 L1138.4,485.7 L1142.4,484.5 L1146.4,483.3 L1150.4,482.1 L1154.4,480.8 L1158.4,479.6 L1162.4,478.4 L1166.4,477.1 L1170.4,475.9 L1174.4,474.6 L1178.4,473.4 L1182.4,472.1 L1186.4,470.8 L1190.4,469.6 L1194.4,468.3 L1198.4,467.0 L1202.4,465.7 L1206.4,464.4 L1210.4,463.1 L1214.4,461.8 L1218.4,460.5 L1222.4,459.1 L1226.4,457.8 L1230.4,456.5 L1234.4,455.1 L1238.4,453.8 L1242.4,452.4 L1246.4,451.1 L1250.4,449.7 L1254.4,448.4 L1258.4,447.0 L1262.4,445.6 L1266.4,444.2 L1270.4,442.8 L1274.4,441.4 L1278.4,440.0 L1282.4,438.6 L1286.4,437.2 L1290.4,435.8 L1294.4,434.4 L1298.4,432.9 L1302.4,431.5 L1306.4,430.1 L1310.4,428.6 L1314.4,427.2 L1318.4,425.7 L1322.4,424.2 L1326.4,422.8 L1330.4,421.3 L1334.4,419.8 L1338.4,418.3 L1342.4,416.8 L1346.4,415.3 L1350.4,413.8 L1354.4,412.3 L1358.4,410.8 L1362.4,409.3 L1366.4,407.8 L1370.4,406.3 L1374.4,404.7 L1378.4,403.2 L1382.4,401.6 L1386.4,400.1 L1390.4,398.5 L1394.4,397.0 L1398.4,395.4 L1402.4,393.8 L1406.4,392.2 L1410.4,390.7 L1414.4,389.1 L1418.4,387.5 L1422.4,385.9 L1426.4,384.3 L1430.4,382.7 L1434.4,381.0 L1438.4,379.4 L1442.4,377.8 L1446.4,376.2 L1450.4,374.5 L1454.4,372.9 L1458.4,371.2 L1462.4,369.6 L1466.4,367.9 L1470.4,366.2 L1474.4,364.6 L1478.4,362.9 L1482.4,361.2 L1486.4,359.5 L1490.4,357.8 L1494.4,356.1 L1498.4,354.4 L1502.4,352.7 L1506.4,351.0 L1510.4,349.3 L1514.4,347.6 L1518.4,345.8 L1522.4,344.1 L1526.4,342.4 L1530.4,340.6 L1534.4,338.9 L1538.4,337.1 L1542.4,335.4 L1546.4,333.6 L1550.4,331.8 L1554.4,330.0 L1558.4,328.3 L1562.4,326.5 L1566.4,324.7 L1570.4,322.9 L1574.4,321.1 L1578.4,319.3 L1582.4,317.5 L1586.4,315.6 L1590.4,313.8 L1594.4,312.0 L1598.4,310.1 L1602.4,308.3 L1606.4,306.5 L1610.4,304.6 L1614.4,302.8 L1618.4,300.9 L1622.4,299.0 L1626.4,297.2 L1630.4,295.3 L1634.4,293.4 L1638.4,291.5 L1642.4,289.6 L1646.4,287.7 L1650.4,285.8 L1654.4,283.9 L1658.4,282.0 L1662.4,280.1 L1666.4,278.2 L1670.4,276.2 L1674.4,274.3 L1678.4,272.4 L1682.4,270.4 L1686.4,268.5 L1690.4,266.5 L1694.4,264.6 L1698.4,262.6 L1702.4,260.6 L1706.4,258.7 L1710.4,256.7 L1714.4,254.7 L1718.4,252.7 L1722.4,250.7 L1726.4,248.7 L1730.4,246.7 L1734.4,244.7 L1738.4,242.7 L1742.4,240.7 L1746.4,238.6 L1750.4,236.6 L1754.4,234.6 L1758.4,232.5 L1762.4,230.5 L1766.4,228.4 L1770.4,226.4 L1774.4,224.3 L1778.4,222.3 L1782.4,220.2 L1786.4,218.1 L1790.4,216.0 L1794.4,214.0 L1798.4,211.9 L1802.4,209.8 L1806.4,207.7 L1810.4,205.6 L1814.4,203.5 L1818.4,201.3 L1822.4,199.2 L1826.4,197.1 L1830.4,195.0 L1834.4,192.8 L1838.4,190.7 L1842.4,188.6 L1846.4,186.4 L1850.4,184.3 L1854.4,182.1 L1858.4,179.9 L1862.4,177.8 L1866.4,175.6 L1870.4,173.4 L1874.4,171.2 L1878.4,169.0 L1882.4,166.8 L1886.4,164.7 L1890.4,162.4 L1894.4,160.2 L1898.4,158.0 L1902.4,155.8 L1906.4,153.6 L1910.4,151.4 L1914.4,149.1 L1918.4,146.9 L1922.4,144.7 L1926.4,142.4 L1930.4,140.2 L1934.4,137.9 L1938.4,135.6 L1942.4,133.4 L1946.4,131.1 L1950.4,128.8 L1954.4,126.6 L1958.4,124.3 L1962.4,122.0 L1966.4,119.7 L1970.4,117.4 L1974.4,115.1 L1978.4,112.8 L1982.4,110.5 L1986.4,108.1 L1987.2,107.7" stroke="#4DBEEE" stroke-width="15.5" stroke-dasharray="59.7 59.88"/>
<line x1="318.4" x2="1986.9" y1="602.31" y2="602.31" stroke="#000" stroke-width="5.2"/>
<line x1="318.4" x2="1986.9" y1="794.39" y2="794.39" stroke="#000" stroke-width="5.2"/>
</g>
<text class="tick" transform="translate(318.00,1443.6) scale(1,1.032)" text-anchor="middle">0</text>
<text class="tick" transform="translate(781.47,1443.6) scale(1,1.032)" text-anchor="middle">50</text>
<text class="tick" transform="translate(1244.94,1443.6) scale(1,1.032)" text-anchor="middle">100</text>
<text class="tick" transform="translate(1708.42,1443.6) scale(1,1.032)" text-anchor="middle">150</text>
<text class="tick" transform="translate(291.4,1370.30) scale(1,1.032)" text-anchor="end">-200</text>
<text class="tick" transform="translate(291.4,1050.17) scale(1,1.032)" text-anchor="end">-100</text>
<text class="tick" transform="translate(291.4,730.05) scale(1,1.032)" text-anchor="end">0</text>
<text class="tick" transform="translate(291.4,409.92) scale(1,1.032)" text-anchor="end">100</text>
<text class="tick" transform="translate(291.4,89.80) scale(1,1.032)" text-anchor="end">200</text>
<text class="lab" x="1153.3" y="1551.6" text-anchor="middle">Time [s]</text>
<text class="lab" transform="translate(100.8,698.65) rotate(-90)" text-anchor="middle">X position [m]</text>
<rect x="367.2" y="98.6" width="365.8" height="421.1" fill="#fff" stroke="#262626" stroke-width="2.2"/>
<line x1="382" x2="538.2" y1="138.90" y2="138.90" stroke="#0072BD" stroke-width="15.5"/>
<text class="leg" transform="translate(550,158.70) scale(1,1.032)">A320-0</text>
<line x1="382" x2="538.2" y1="207.00" y2="207.00" stroke="#D95319" stroke-width="15.5" stroke-dasharray="90 60"/>
<text class="leg" transform="translate(550,226.80) scale(1,1.032)">A340-0</text>
<line x1="382" x2="538.2" y1="275.10" y2="275.10" stroke="#EDB120" stroke-width="15.5"/>
<text class="leg" transform="translate(550,294.90) scale(1,1.032)">A320-1</text>
<line x1="382" x2="538.2" y1="343.20" y2="343.20" stroke="#7E2F8E" stroke-width="15.5" stroke-dasharray="90 60"/>
<text class="leg" transform="translate(550,363.00) scale(1,1.032)">A340-1</text>
<line x1="382" x2="538.2" y1="411.30" y2="411.30" stroke="#77AC30" stroke-width="15.5"/>
<text class="leg" transform="translate(550,431.10) scale(1,1.032)">A320-2</text>
<line x1="382" x2="538.2" y1="479.40" y2="479.40" stroke="#4DBEEE" stroke-width="15.5" stroke-dasharray="90 60"/>
<text class="leg" transform="translate(550,499.20) scale(1,1.032)">A340-2</text>
</svg></body></html>
